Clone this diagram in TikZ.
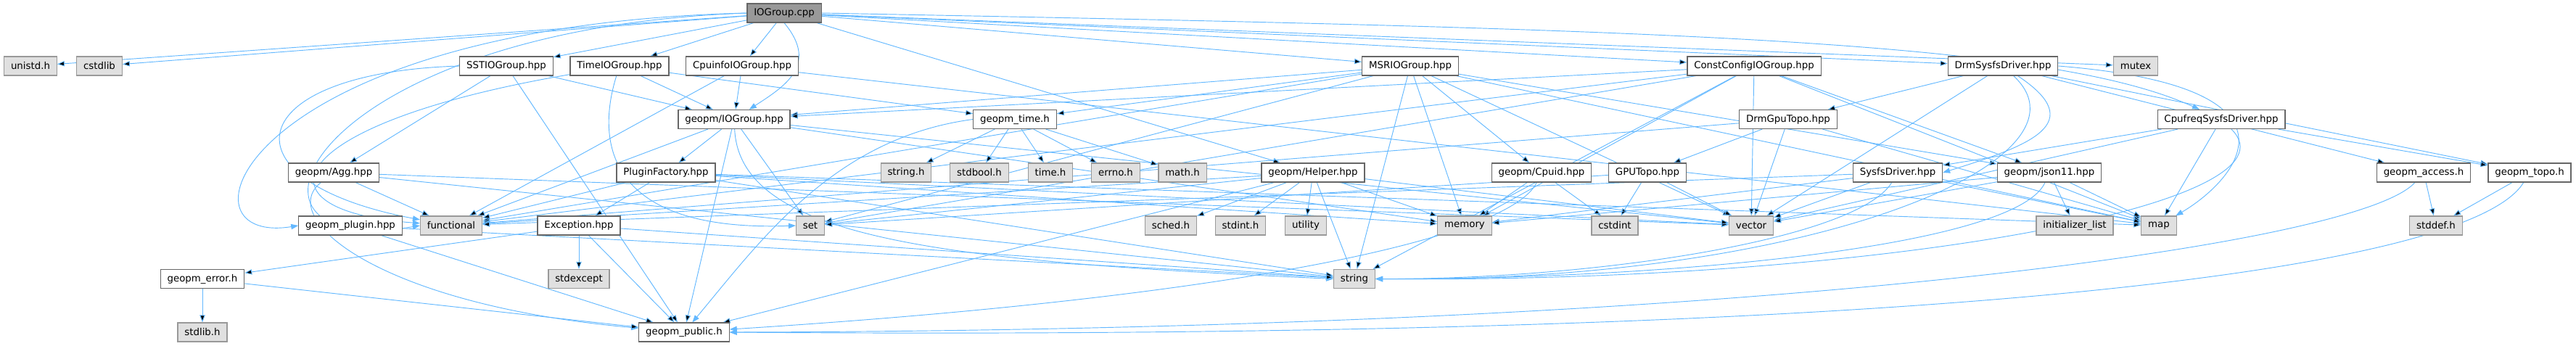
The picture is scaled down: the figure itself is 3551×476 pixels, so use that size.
\documentclass[tikz,border=0pt]{standalone}
\usepackage{fontspec}
\setmainfont{DejaVu Sans}
\usepackage{tikz}
\usetikzlibrary{arrows.meta, backgrounds}
\definecolor{edgeblue}{HTML}{63B8FF}
\definecolor{sysfill}{HTML}{E0E0E0}
\definecolor{rootfill}{HTML}{999999}
\definecolor{boxline}{HTML}{666666}
\definecolor{sysline}{HTML}{999999}

\begin{document}
\begin{tikzpicture}[
    x=0.75pt, y=-0.75pt,
    file/.style={rectangle, draw=boxline, line width=0.9pt, minimum height=19.5pt, inner xsep=7pt, inner ysep=0pt, fill=#1, font=\fontsize{10pt}{12pt}\selectfont},
    file/.default=white,
    sys/.style={file=sysfill, draw=sysline},
    dep/.style={draw=edgeblue, line width=0.7pt, -{Triangle[length=7.5pt,width=5.5pt]}}
]
\useasboundingbox (0,0) rectangle (3551,476);

% row 0
\node[file=rootfill] (root) at (1081,18) {IOGroup.cpp};
% row 1
\node[sys] (unistd) at (42,91) {unistd.h};
\node[sys] (cstdlib) at (137,91) {cstdlib};
\node[file] (sst) at (698,91) {SSTIOGroup.hpp};
\node[file] (timeio) at (854,91) {TimeIOGroup.hpp};
\node[file] (cpuinfo) at (1023,91) {CpuinfoIOGroup.hpp};
\node[file] (msr) at (1944,91) {MSRIOGroup.hpp};
\node[file] (constcfg) at (2418,91) {ConstConfigIOGroup.hpp};
\node[file] (drmsysfs) at (2761,91) {DrmSysfsDriver.hpp};
\node[sys] (mutex) at (2944,91) {mutex};
% row 2
\node[file] (iogrp) at (1012,164.5) {geopm/IOGroup.hpp};
\node[file] (gtime) at (1399,164.5) {geopm\_time.h};
\node[file] (drmgpu) at (2465,164.5) {DrmGpuTopo.hpp};
\node[file] (cpufreq) at (3062,164.5) {CpufreqSysfsDriver.hpp};
% row 3
\node[file] (agg) at (460,238) {geopm/Agg.hpp};
\node[file] (plugfac) at (918,238) {PluginFactory.hpp};
\node[sys] (stringh) at (1249,238) {string.h};
\node[sys] (stdbool) at (1350,238) {stdbool.h};
\node[sys] (timeh) at (1448,238) {time.h};
\node[sys] (errnoh) at (1538,238) {errno.h};
\node[sys] (mathh) at (1630,238) {math.h};
\node[file] (helper) at (1810,238) {geopm/Helper.hpp};
\node[file] (cpuid) at (2125,238) {geopm/Cpuid.hpp};
\node[file] (gputopo) at (2271,238) {GPUTopo.hpp};
\node[file] (sysfs) at (2616,238) {SysfsDriver.hpp};
\node[file] (json) at (2825,238) {geopm/json11.hpp};
\node[file] (access) at (3341,238) {geopm\_access.h};
\node[file] (topo) at (3487,238) {geopm\_topo.h};
% row 4
\node[file] (plugin) at (483,311) {geopm\_plugin.hpp};
\node[sys] (functional) at (622,311) {functional};
\node[file] (exception) at (798,311) {Exception.hpp};
\node[sys] (set) at (1117,311) {set};
\node[sys] (sched) at (1614,311) {sched.h};
\node[sys] (stdint) at (1710,311) {stdint.h};
\node[sys] (utility) at (1800,311) {utility};
\node[sys] (memory) at (2019,311) {memory};
\node[sys] (cstdint) at (2226,311) {cstdint};
\node[sys] (vector) at (2414,311) {vector};
\node[sys] (initlist) at (2860,311) {initializer\_list};
\node[sys] (map) at (2976,311) {map};
\node[sys] (stddef) at (3358,311) {stddef.h};
% row 5
\node[file] (error) at (279,384.5) {geopm\_error.h};
\node[sys] (stdexcept) at (798,384.5) {stdexcept};
\node[sys] (string) at (1867,384.5) {string};
% row 6
\node[sys] (stdlib) at (279,458) {stdlib.h};
\node[file] (public) at (943,458) {geopm\_public.h};

\begin{pgfonlayer}{background}
% IOGroup.cpp
\draw[dep] (root) edge (unistd) edge (cstdlib) edge (sst) edge (timeio) edge (cpuinfo) edge (helper)
    edge (msr) edge (constcfg) edge (drmsysfs) edge (mutex);
\draw[dep] (root.east) .. controls (2300,40) and (2820,55) .. (cpufreq);
\draw[dep] (root.west) .. controls (330,35) and (230,340) .. (plugin.west);
\draw[dep] (root.west) .. controls (420,40) and (280,360) .. (functional.west);
\draw[dep] (root.south) .. controls (1130,90) and (1080,120) .. (iogrp);
% first level headers
\draw[dep] (sst) edge (agg) edge (iogrp) edge (public);
\draw[dep] (sst.west) .. controls (330,100) and (300,250) .. (functional);
\draw[dep] (timeio) edge (iogrp) edge (gtime);
\draw[dep] (timeio) .. controls (390,170) and (340,290) .. (functional);
\draw[dep] (timeio) .. controls (820,200) and (840,320) .. (set.west);
\draw[dep] (cpuinfo) edge (iogrp) edge (functional) edge (map);
\draw[dep] (msr) edge (gtime) edge (iogrp) edge (functional) edge (set) edge (string) edge (memory)
    edge (cpuid) edge (vector) edge (map) edge (json);
\draw[dep] (constcfg) edge (iogrp) edge (functional) edge (set) edge (memory) edge (json)
    edge (map) edge (vector) edge (string);
\draw[dep] (drmsysfs) edge (drmgpu) edge (vector) edge (topo) edge (access);
\draw[dep] (drmsysfs.east) .. controls (3200,120) and (3080,250) .. (map);
\draw[dep] (drmsysfs) .. controls (2880,170) and (2800,200) .. (sysfs.east);
\draw[dep] (drmsysfs) .. controls (2900,220) and (2500,390) .. (string.east);
% second level headers
\draw[dep] (iogrp) edge (plugfac) edge (set) edge (functional) edge (vector) edge (memory) edge (public);
\draw[dep] (iogrp) .. controls (1020,330) and (1300,360) .. (string.west);
\draw[dep] (gtime) edge (stringh) edge (stdbool) edge (timeh) edge (errnoh) edge (mathh);
\draw[dep] (gtime.west) .. controls (1150,190) and (1050,330) .. (public);
\draw[dep] (drmgpu) edge (gputopo) edge (vector) edge (map) edge (functional);
\draw[dep] (cpufreq) edge (sysfs) edge (vector) edge (map) edge (topo);
\draw[dep] (cpufreq) .. controls (3180,280) and (2600,390) .. (string.east);
% third level headers
\draw[dep] (agg) edge (functional) edge (vector) edge (string);
\draw[dep] (agg) .. controls (380,300) and (520,420) .. (public);
\draw[dep] (plugfac) edge (functional) edge (exception) edge (map) edge (memory) edge (vector) edge (string);
\draw[dep] (helper) edge (sched) edge (stdint) edge (utility) edge (string) edge (memory) edge (vector)
    edge (functional) edge (set) edge (public);
\draw[dep] (cpuid) edge (memory) edge (cstdint);
\draw[dep] (cpuid) .. controls (2080,330) and (1700,410) .. (public);
\draw[dep] (gputopo) edge (cstdint) edge (vector) edge (set);
\draw[dep] (sysfs) edge (functional) edge (vector) edge (map) edge (memory);
\draw[dep] (sysfs) .. controls (2560,330) and (2200,385) .. (string.east);
\draw[dep] (json) edge (memory) edge (vector) edge (initlist) edge (map);
\draw[dep] (json) .. controls (2780,340) and (2300,385) .. (string.east);
\draw[dep] (access) edge (stddef);
\draw[dep] (access) .. controls (3250,340) and (2400,455) .. (public.east);
\draw[dep] (topo) edge (stddef);
\draw[dep] (topo) .. controls (3400,380) and (2600,470) .. (public.east);
% lower levels
\draw[dep] (plugin) edge (public) edge (string);
\draw[dep] (exception) edge (stdexcept) edge (public) edge (string) edge (error);
\draw[dep] (error) edge (stdlib) edge (public);
\end{pgfonlayer}
\end{tikzpicture}
\end{document}
